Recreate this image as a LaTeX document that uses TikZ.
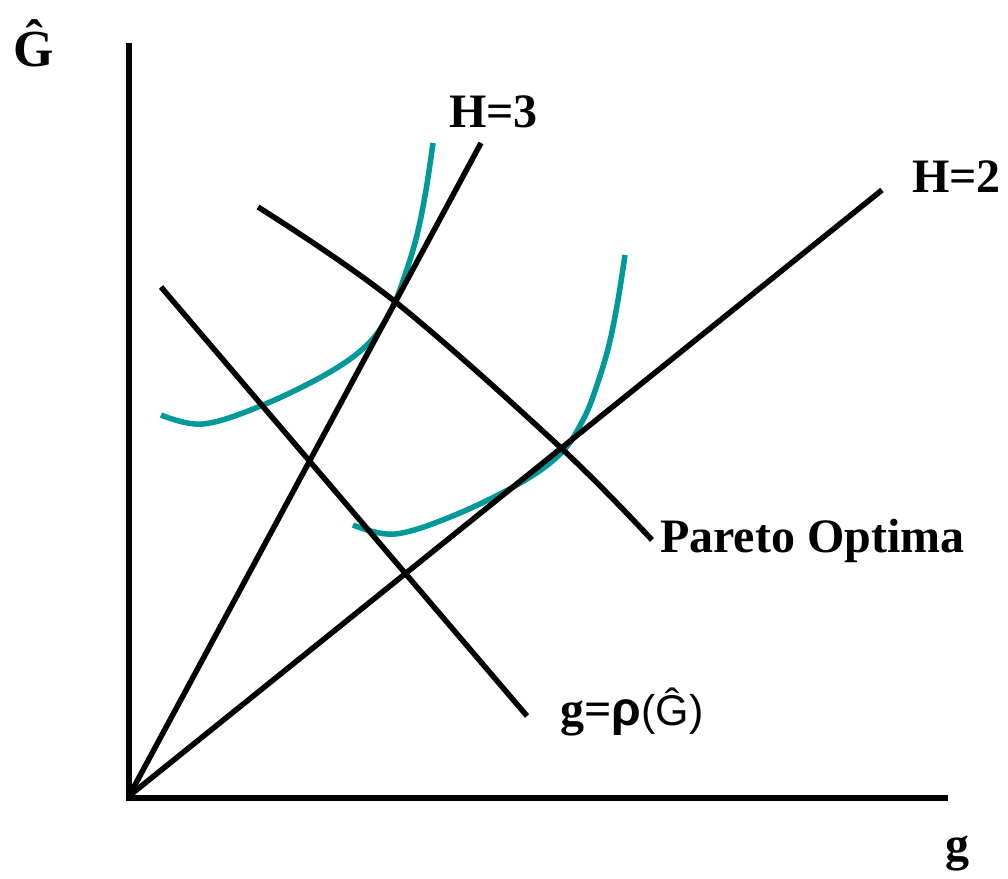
\documentclass[tikz,border=0pt]{standalone}
\usepackage{fontspec}
\setmainfont{Liberation Serif}
\newfontfamily\sansf{Liberation Sans}
\definecolor{tealc}{RGB}{0,153,153}
\begin{document}
\begin{tikzpicture}[x=1pt,y=-1pt,
  ln/.style={line width=5.5pt,black},
  indiff/.style={line width=5.5pt,tealc},
  lbl/.style={inner sep=0pt,anchor=base west,font=\fontsize{48}{56}\selectfont\bfseries}]
\useasboundingbox (0,0) rectangle (1008,878);
% indifference curves
\draw[indiff] plot[smooth,tension=0.6] coordinates {(161,415) (203,424) (263,405) (330,372) (370,342) (392,308) (405,275) (417,235) (426,190) (433,143)};
\begin{scope}[shift={(192,110)}]
\draw[indiff] plot[smooth,tension=0.6] coordinates {(161,415) (203,424) (263,405) (330,372) (370,342) (392,308) (405,275) (417,235) (426,190) (433,145)};
\end{scope}
% coordinates
\coordinate (O) at (129,796);
\coordinate (ytop) at (129,46);
\coordinate (xend) at (945,798);
\coordinate (h3) at (481,143);
\coordinate (h2) at (882,190);
\coordinate (r1) at (161,287);
\coordinate (r2) at (527,716);
% lines
\draw[ln] (h3) -- (O);
\draw[ln] (h2) -- (O);
\draw[ln] (r1) -- (r2);
\draw[ln] plot[smooth,tension=0.6] coordinates {(258,207) (393,300) (560,447) (652,540)};
\draw[ln,line cap=rect] (ytop) -- (129,798) -- (xend);
% labels
\node[lbl,font=\fontsize{52}{60}\selectfont\bfseries] (lG) at (13,66) {Ĝ};
\node[lbl] (lg) at (945,860) {g};
\node[lbl] (lh3) at (449,127) {H=3};
\node[lbl] (lh2) at (912,192) {H=2};
\node[lbl] (lpo) at (660,552) {Pareto Optima};
\node[lbl] (lr) at (560,725) {g=\sansf ρ\mdseries\fontsize{43}{50}\selectfont(Ĝ)};
\end{tikzpicture}
\end{document}
